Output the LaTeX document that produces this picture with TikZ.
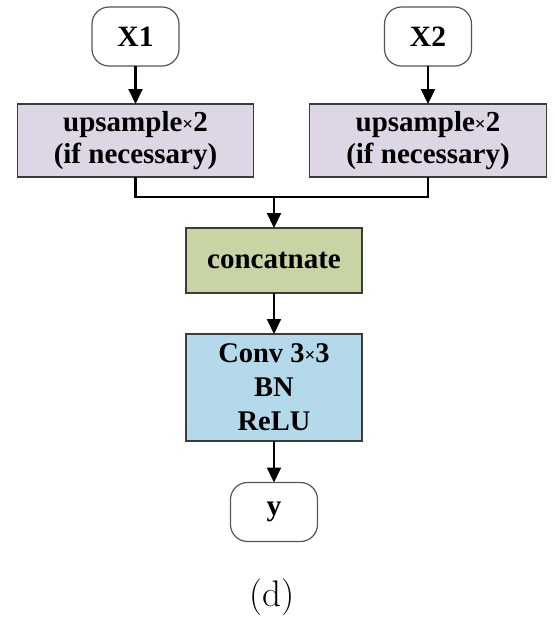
\documentclass[tikz,border=0pt]{standalone}
\usepackage{fontspec}
\newfontfamily\tnr{Liberation Serif}
\usetikzlibrary{arrows.meta}
\definecolor{upc}{RGB}{221,214,229}
\definecolor{catc}{RGB}{200,212,163}
\definecolor{convc}{RGB}{180,217,234}
\definecolor{edgec}{RGB}{60,60,60}
\definecolor{roundc}{RGB}{85,85,85}
\newcommand{\tms}{{\fontsize{19}{19}\selectfont\raisebox{1pt}{×}}}
\begin{document}
\begin{tikzpicture}[x=1pt,y=-1pt,
  box/.style={draw=edgec,line width=1.5pt,inner sep=0pt,outer sep=0pt,align=center,
    font=\tnr\bfseries\fontsize{29}{32}\selectfont},
  term/.style={draw=roundc,line width=1.2pt,rounded corners=17pt,inner sep=0pt,outer sep=0pt,
    minimum width=87pt,minimum height=59pt,font=\tnr\bfseries\fontsize{29.5}{32}\selectfont},
  conn/.style={line width=2.2pt,black},
  arr/.style={conn,-{Triangle[length=15pt,width=14pt]}}]
\useasboundingbox (0,0) rectangle (555,625);
\node[term] (x1) at (135.5,36.5) {X1};
\node[term] (x2) at (428,36.5) {X2};
\node[box,fill=upc,minimum width=236pt,minimum height=73pt] (up1) at (135.5,140.5)
  {upsample\tms2\\(if necessary)};
\node[box,fill=upc,minimum width=237pt,minimum height=73pt] (up2) at (428,140.5)
  {upsample\tms2\\(if necessary)};
\coordinate (j) at (274,197);
\node[box,fill=catc,minimum width=176pt,minimum height=65pt] (cat) at (274,260.5) {concatnate};
\node[box,fill=convc,minimum width=176pt,minimum height=107pt,
  font=\tnr\bfseries\fontsize{28.5}{34}\selectfont] (conv) at (274,387.5)
  {Conv 3\tms3\\BN\\ReLU};
\node[term] (y) at (274,512) {y};
\node[font=\fontsize{37}{40}\selectfont] (cap) at (272,597) {(d)};
\draw[arr] (x1) -- (up1);
\draw[arr] (x2) -- (up2);
\draw[conn] (up1.south) |- (j);
\draw[conn] (up2.south) |- (j);
\draw[arr] (j) -- (cat);
\draw[arr] (cat) -- (conv);
\draw[arr] (conv) -- (y);
\end{tikzpicture}
\end{document}
